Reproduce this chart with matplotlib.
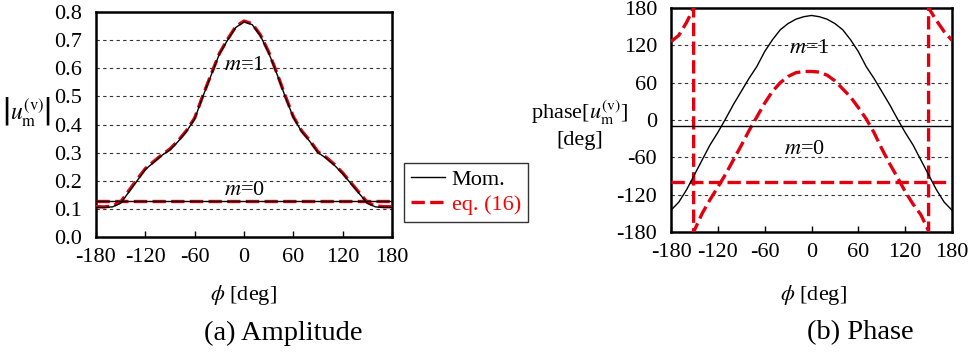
import matplotlib
matplotlib.use("Agg")
import matplotlib.pyplot as plt
import numpy as np

plt.rcParams['font.family'] = ['Liberation Serif', 'DejaVu Serif']
plt.rcParams['mathtext.fontset'] = 'stix'

RED = '#e00010'

# ---------------- data ----------------
phi_amp = [-180, -170, -160, -150, -140, -130, -120, -110, -100, -90, -80, -70, -60, -50, -40,
           -30, -20, -10, 0, 10, 20, 30, 40, 50, 60, 70, 80, 90, 100, 110, 120, 130, 140,
           150, 160, 170, 180]
amp_m1_mom = [0.105, 0.105, 0.107, 0.12, 0.16, 0.20, 0.24, 0.265, 0.29, 0.31, 0.34, 0.375, 0.42,
              0.50, 0.575, 0.65, 0.70, 0.745, 0.765, 0.755, 0.715, 0.655, 0.58, 0.50, 0.425,
              0.375, 0.34, 0.30, 0.28, 0.255, 0.225, 0.19, 0.155, 0.12, 0.107, 0.105, 0.105]
amp_m1_eq = [0.108, 0.107, 0.11, 0.125, 0.165, 0.205, 0.243, 0.268, 0.292, 0.313, 0.343, 0.378,
             0.423, 0.503, 0.578, 0.652, 0.703, 0.748, 0.768, 0.758, 0.718, 0.658, 0.583, 0.503,
             0.428, 0.378, 0.343, 0.303, 0.283, 0.258, 0.228, 0.193, 0.158, 0.123, 0.11, 0.108,
             0.108]
amp_m0_mom = [0.127] * len(phi_amp)
amp_m0_eq = [0.129] * len(phi_amp)

phi_ph = phi_amp
ph_m1_mom = [-145, -132, -112, -88, -64, -40, -20, 2, 25, 46, 67, 86, 110, 129, 145, 155, 162,
             166, 168, 166, 162, 155, 145, 129, 110, 86, 67, 46, 25, 2, -20, -40, -64, -88,
             -112, -132, -145]
ph_m0_mom = [-10] * len(phi_ph)

phi_ph_eq = [-180, -170, -160, -151, -151, -140, -130, -120, -110, -100, -90, -80, -70, -60,
             -50, -40, -30, -20, -10, 0, 10, 20, 30, 40, 50, 60, 70, 80, 90, 100, 110, 120,
             130, 140, 150, 150, 160, 170, 180]
ph_m1_eq = [126, 136, 157, 180, -180, -150, -128, -108, -87, -64, -41, -17, 5, 27, 46, 60, 70,
            76, 78, 78, 77, 72, 63, 50, 37, 20, 2, -20, -46, -70, -92, -115, -135, -152, -178,
            180, 160, 142, 128]
ph_m0_eq = [-100] * len(phi_ph)

xticks = [-180, -120, -60, 0, 60, 120, 180]
amp_yticks = [0.0, 0.1, 0.2, 0.3, 0.4, 0.5, 0.6, 0.7, 0.8]
ph_yticks = [-180, -120, -60, 0, 60, 120, 180]

# ---------------- figure ----------------
fig = plt.figure(figsize=(9.72, 3.54), dpi=100)
FS = 16
dash = (4, 1.6)

def style(ax):
    for s in ax.spines.values():
        s.set_linewidth(1.8)
    ax.tick_params(direction='in', length=4, width=1, labelsize=FS, pad=8)
    ax.tick_params(axis='y', length=0, pad=10)
    ax.set_xlim(-180, 180)
    ax.set_xticks(xticks)
    ax.set_xticklabels([str(t) for t in xticks])

# (a) amplitude
ax1 = fig.add_axes([96/972, 1-237/354, 296/972, 225/354])
style(ax1)
ax1.set_ylim(0, 0.8)
ax1.set_yticks(amp_yticks)
ax1.set_yticklabels([f"{t:.1f}" for t in amp_yticks])
for t in amp_yticks[1:-1]:
    ax1.axhline(t, color='#333333', lw=0.8, ls=(0, (3, 3)), zorder=1)
l_mom, = ax1.plot(phi_amp, amp_m1_mom, color='black', lw=1.0, zorder=4)
ax1.plot(phi_amp, amp_m0_mom, color='black', lw=1.0, zorder=4)
l_eq, = ax1.plot(phi_amp, amp_m1_eq, color=RED, lw=2.4, dashes=dash, zorder=3)
ax1.plot(phi_amp, amp_m0_eq, color=RED, lw=2.4, dashes=dash, zorder=3)
ax1.text(0, 0.61, r"$m$=1", ha='center', va='center', fontsize=FS)
ax1.text(0, 0.167, r"$m$=0", ha='center', va='center', fontsize=FS)

# (b) phase
ax2 = fig.add_axes([671/972, 1-232/354, 281/972, 224/354])
style(ax2)
ax2.set_ylim(-180, 180)
ax2.set_yticks(ph_yticks)
ax2.set_yticklabels([str(t) for t in ph_yticks])
for t in ph_yticks[1:-1]:
    ax2.axhline(t, color='#333333', lw=0.8, ls=(0, (3, 3)), zorder=1)
ax2.plot(phi_ph, ph_m1_mom, color='black', lw=1.0, zorder=4)
ax2.plot(phi_ph, ph_m0_mom, color='black', lw=1.0, zorder=4)
ax2.plot(phi_ph_eq, ph_m1_eq, color=RED, lw=2.4, dashes=dash, zorder=3)
ax2.plot(phi_ph, ph_m0_eq, color=RED, lw=2.4, dashes=dash, zorder=3)
ax2.text(-3, 115, r"$m$=1", ha='center', va='center', fontsize=FS)
ax2.text(-9, -48, r"$m$=0", ha='center', va='center', fontsize=FS)

# labels
fig.text(243/972, 1-295/354, r"$\phi$ [deg]", ha='center', va='center', fontsize=FS)
fig.text(813/972, 1-295/354, r"$\phi$ [deg]", ha='center', va='center', fontsize=FS)
fig.text(283/972, 1-333/354, "(a) Amplitude", ha='center', va='center', fontsize=20.5)
fig.text(860/972, 1-333/354, "(b) Phase", ha='center', va='center', fontsize=20.5)
fig.text(27/972, 1-112/354, r"$\left|u_{\mathrm{m}}^{\mathrm{(v)}}\right|$", ha='center',
         va='center', fontsize=17)
fig.text(580/972, 1-113/354, r"phase[$u_{\mathrm{m}}^{\mathrm{(v)}}$]", ha='center',
         va='center', fontsize=FS)
fig.text(580/972, 1-140/354, "[deg]", ha='center', va='center', fontsize=FS)

leg = fig.legend([l_mom, l_eq], ["Mom.", "eq. (16)"], loc='upper left',
                 bbox_to_anchor=(404/972, 1-163/354), fontsize=FS, frameon=True,
                 fancybox=False, edgecolor='black', handlelength=1.55, handletextpad=0.3,
                 borderpad=0.3, labelspacing=0.2, borderaxespad=0)
leg.get_frame().set_linewidth(1.0)
leg.get_texts()[1].set_color('#ff0000')

fig.savefig("out.png", dpi=100)
